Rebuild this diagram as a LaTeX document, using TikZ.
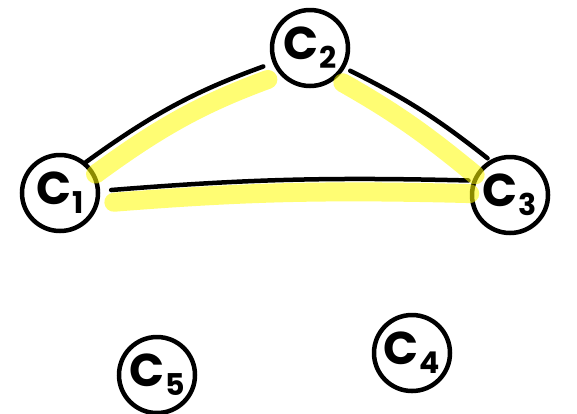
\documentclass[tikz,border=0pt]{standalone}
\usepackage{fontspec}
\setmainfont{Poppins}
\begin{document}
\begin{tikzpicture}[x=1pt,y=-1pt,
  cnode/.style={draw=black,line width=4.5pt,circle,minimum size=76pt,inner sep=0pt,font=\fontsize{46}{46}\selectfont\bfseries},
  edgeline/.style={draw=black,line width=4.5pt,line cap=round},
  hilite/.style={draw={rgb,255:red,255;green,252;blue,0},draw opacity=0.55,line width=19pt,line cap=round}]
\newcommand{\clabel}[1]{C\kern1pt\raisebox{-9pt}{\fontsize{30}{30}\selectfont #1}}
\useasboundingbox (0,0) rectangle (577,413);
\node[cnode] (c1) at (60,193) {\clabel{1}};
\node[cnode] (c2) at (310,48) {\clabel{2}};
\node[cnode] (c3) at (510,195) {\clabel{3}};
\node[cnode] (c4) at (412,353) {\clabel{4}};
\node[cnode] (c5) at (157,375) {\clabel{5}};
% black edges
\draw[edgeline,shorten >=10pt] (c1.50) to[bend left=8] (c2.202);
\draw[edgeline,shorten <=6pt,shorten >=3pt] (c2.-30) to[bend left=6] (c3.120);
\draw[edgeline,shorten <=11pt,shorten >=4pt] (c1.3) to[bend left=3] (c3.159);
% highlights
\draw[hilite,shorten >=13pt] (c1.28) to[bend left=8] (c2.222);
\draw[hilite,shorten <=8pt] (c2.-50) to[bend left=5] (c3.150);
\draw[hilite,shorten <=15pt] (c1.-15) to[bend left=3] (c3.178);
\end{tikzpicture}
\end{document}
